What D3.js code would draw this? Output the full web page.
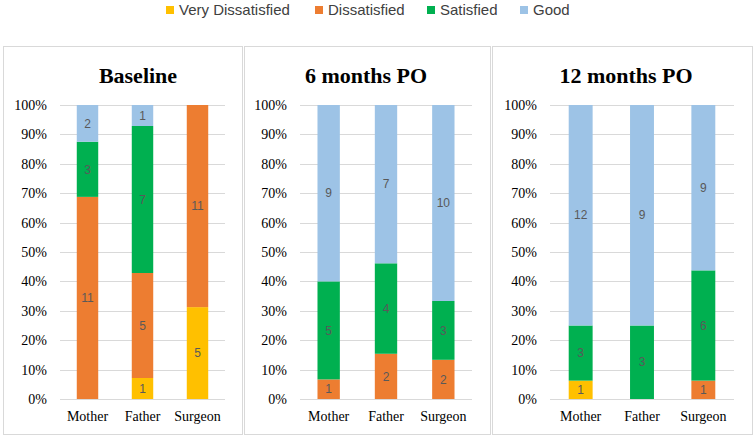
<!DOCTYPE html>
<html>
<head>
<meta charset="utf-8">
<script src="https://cdn.jsdelivr.net/npm/d3@7"></script>
<style>
  html, body { margin: 0; padding: 0; background: #fff; }
  svg { display: block; }
</style>
</head>
<body>
<svg id="chart" width="755" height="438"></svg>
<script>
// ---- Data ----
const categories = ["Mother", "Father", "Surgeon"];
const panelTitles = ["Baseline", "6 months PO", "12 months PO"];
const seriesNames = ["Very Dissatisfied", "Dissatisfied", "Satisfied", "Good"];
// counts per panel, per category [Mother, Father, Surgeon]
const veryDissatisfied = [[0, 1, 5], [0, 0, 0], [1, 0, 0]];
const dissatisfied     = [[11, 5, 11], [1, 2, 2], [0, 0, 1]];
const satisfied        = [[3, 7, 0], [5, 4, 3], [3, 3, 6]];
const good             = [[2, 1, 0], [9, 7, 10], [12, 9, 9]];
const yTickValues = [0, 0.1, 0.2, 0.3, 0.4, 0.5, 0.6, 0.7, 0.8, 0.9, 1];

// ---- Styles / layout ----
const colors = ["#FFC000", "#ED7D31", "#00B050", "#9DC3E6"];
const panelLayout = [
  { bx0: 3,   bx1: 242, px0: 60,  px1: 225, titleX: 138 },
  { bx0: 244, bx1: 490, px0: 300, px1: 472, titleX: 366 },
  { bx0: 492, bx1: 752, px0: 550, px1: 734, titleX: 626 }
];
const boxTop = 46, boxBottom = 434;
const plotTop = 105, plotBottom = 399;

const svg = d3.select("#chart");

// Legend
const legendX = [166, 315, 427, 520];
const legend = svg.append("g");
seriesNames.forEach((name, i) => {
  legend.append("rect").attr("x", legendX[i]).attr("y", 6).attr("width", 8).attr("height", 8)
    .attr("fill", colors[i]);
  legend.append("text").attr("x", legendX[i] + 13).attr("y", 10).attr("dy", "0.35em")
    .attr("font-family", "Liberation Sans, Arial, sans-serif").attr("font-size", 15)
    .attr("fill", "#404040").text(name);
});

const y = d3.scaleLinear().domain([0, 1]).range([plotBottom, plotTop]);

panelTitles.forEach((title, p) => {
  const L = panelLayout[p];
  const g = svg.append("g");
  // panel border
  g.append("rect").attr("x", L.bx0 + 0.5).attr("y", boxTop + 0.5)
    .attr("width", L.bx1 - L.bx0).attr("height", boxBottom - boxTop)
    .attr("fill", "#fff").attr("stroke", "#D9D9D9").attr("stroke-width", 1);

  // title
  g.append("text").attr("x", L.titleX).attr("y", 83).attr("text-anchor", "middle")
    .attr("font-family", "Liberation Serif, Times New Roman, serif").attr("font-weight", "bold")
    .attr("font-size", 22).attr("fill", "#000").text(title);

  const x = d3.scaleBand().domain(categories).range([L.px0, L.px1]).paddingInner(0.6).paddingOuter(0.3);
  const xCenter = d3.scaleBand().domain(categories).range([L.px0, L.px1]);

  // gridlines
  g.append("g").selectAll("line").data(yTickValues).join("line")
    .attr("x1", L.px0).attr("x2", L.px1)
    .attr("y1", d => Math.round(y(d)) + 0.5).attr("y2", d => Math.round(y(d)) + 0.5)
    .attr("stroke", "#D9D9D9").attr("stroke-width", 1);

  // y axis labels
  const yAxis = d3.axisLeft(y).tickValues(yTickValues).tickFormat(d3.format(".0%")).tickSize(0).tickPadding(0);
  const ya = g.append("g").attr("transform", `translate(${L.px0 - 13},0)`).call(yAxis);
  ya.select(".domain").remove();
  ya.selectAll("text").attr("font-family", "Liberation Serif, Times New Roman, serif")
    .attr("font-size", 14).attr("fill", "#000");

  // data table for stack
  const rows = categories.map((c, i) => ({
    cat: c,
    "Very Dissatisfied": veryDissatisfied[p][i],
    "Dissatisfied": dissatisfied[p][i],
    "Satisfied": satisfied[p][i],
    "Good": good[p][i]
  }));
  const stacked = d3.stack().keys(seriesNames).offset(d3.stackOffsetExpand)(rows);

  const barW = xCenter.bandwidth() * 0.39;
  stacked.forEach((s, si) => {
    const sg = g.append("g");
    sg.selectAll("rect").data(s).join("rect")
      .attr("x", d => xCenter(d.data.cat) + xCenter.bandwidth() / 2 - barW / 2)
      .attr("width", barW)
      .attr("y", d => y(d[1]))
      .attr("height", d => Math.max(0, y(d[0]) - y(d[1])))
      .attr("fill", colors[si]);
    sg.selectAll("text").data(s.filter(d => d.data[s.key] > 0)).join("text")
      .attr("x", d => xCenter(d.data.cat) + xCenter.bandwidth() / 2)
      .attr("y", d => (y(d[0]) + y(d[1])) / 2)
      .attr("dy", "0.35em").attr("text-anchor", "middle")
      .attr("font-family", "Liberation Sans, Arial, sans-serif").attr("font-size", 12)
      .attr("fill", "#595959")
      .text(d => d.data[s.key]);
  });

  // x axis labels
  const xAxis = d3.axisBottom(xCenter).tickSize(0).tickPadding(0);
  const xa = g.append("g").attr("transform", `translate(0,${plotBottom + 22})`).call(xAxis);
  xa.select(".domain").remove();
  xa.selectAll("text").attr("font-family", "Liberation Serif, Times New Roman, serif")
    .attr("font-size", 14).attr("fill", "#000").attr("dy", "0");
});
</script>
</body>
</html>
